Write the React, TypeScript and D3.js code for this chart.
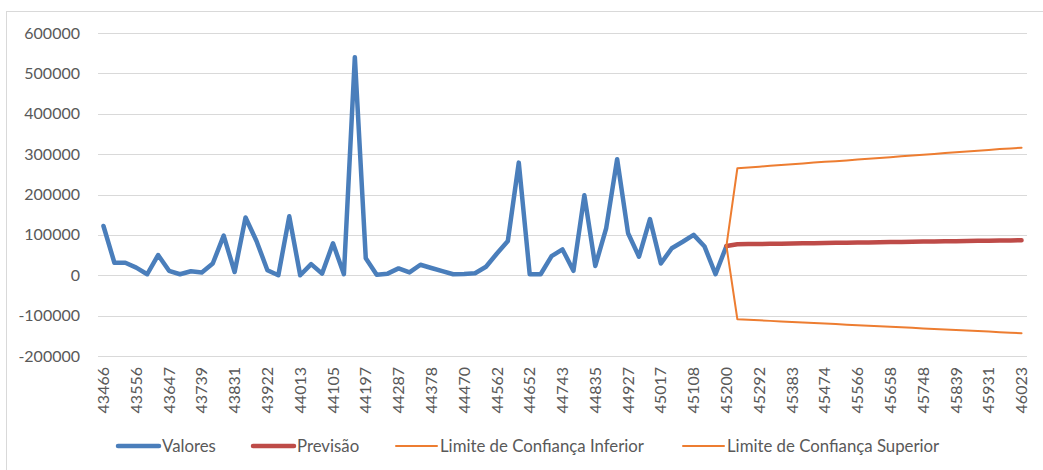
import React from "react";
import * as d3 from "d3";

// Excel serial dates (first day of each month, Jan 2019 – Jan 2026)
const categories: number[] = [
  43466, 43497, 43525, 43556, 43586, 43617, 43647, 43678, 43709, 43739, 43770, 43800,
  43831, 43862, 43891, 43922, 43952, 43983, 44013, 44044, 44075, 44105, 44136, 44166,
  44197, 44228, 44256, 44287, 44317, 44348, 44378, 44409, 44440, 44470, 44501, 44531,
  44562, 44593, 44621, 44652, 44682, 44713, 44743, 44774, 44805, 44835, 44866, 44896,
  44927, 44958, 44986, 45017, 45047, 45078, 45108, 45139, 45170, 45200, 45231, 45261,
  45292, 45323, 45352, 45383, 45413, 45444, 45474, 45505, 45536, 45566, 45597, 45627,
  45658, 45689, 45717, 45748, 45778, 45809, 45839, 45870, 45901, 45931, 45962, 45992,
  46023,
];

// Actual values (Jan 2019 – Oct 2023)
const valores: number[] = [
  122000, 31000, 31000, 19000, 2500, 50000, 11000, 2500, 10000, 7000, 29000, 98000,
  8000, 143000, 85000, 12500, 0, 146000, 0, 27500, 4000, 79000, 2500, 540000,
  42000, 1500, 4000, 17000, 7000, 26000, 18000, 10000, 2500, 3000, 5000, 21000,
  54000, 85000, 279000, 2500, 2500, 47500, 64000, 11000, 198000, 23000, 117000, 287500,
  104000, 46000, 139000, 29000, 67000, 83000, 100000, 71000, 2500, 72500,
];

// Forecast (Oct 2023 – Jan 2026)
const previsao: number[] = [
  72500, 76700, 77100, 77500, 77900, 78300, 78600, 79000, 79400, 79800, 80200, 80600,
  81000, 81400, 81700, 82100, 82500, 82900, 83300, 83700, 84100, 84500, 84800, 85200,
  85600, 86000, 86300, 86600,
];

const limiteInferior: number[] = [
  72500, -109000, -110300, -111700, -113000, -114300, -115700, -117000, -118300, -119600,
  -121000, -122300, -123600, -125000, -126300, -127600, -128900, -130300, -131600,
  -132900, -134300, -135600, -136900, -138300, -139600, -140900, -142300, -143600,
];

const limiteSuperior: number[] = [
  72500, 265000, 267000, 269000, 271000, 273000, 275000, 277000, 279000, 281000,
  282500, 284500, 286500, 288500, 290500, 292500, 294500, 296500, 298500,
  300500, 302500, 304500, 306500, 308500, 310500, 312500, 314200, 316000,
];

const forecastStart = 57;
const yTicks: number[] = [-200000, -100000, 0, 100000, 200000, 300000, 400000, 500000, 600000];
const legendItems = [
  { label: "Valores", color: "#4A7EBB", width: 4.5, x: 118 },
  { label: "Previsão", color: "#BE4B48", width: 4.5, x: 253 },
  { label: "Limite de Confiança Inferior", color: "#ED7D31", width: 2, x: 396 },
  { label: "Limite de Confiança Superior", color: "#ED7D31", width: 2, x: 683 },
];

const W = 1043;
const H = 470;
const FONT = "Lato, 'Open Sans', sans-serif";
const TEXT = "#595959";

export default function App() {
  const x = d3.scaleBand<number>().domain(categories).range([98, 1027]).paddingInner(0).paddingOuter(0);
  const cx = (i: number) => (x(categories[i]) as number) + x.bandwidth() / 2;
  const y = d3.scaleLinear().domain([-200000, 600000]).range([356, 33]);

  const lineFrom = (offset: number) =>
    d3
      .line<number>()
      .x((_, i) => cx(i + offset))
      .y((d) => y(d));

  const series = [
    { data: valores, offset: 0, color: "#4A7EBB", w: 4.5 },
    { data: previsao, offset: forecastStart, color: "#BE4B48", w: 4.5 },
    { data: limiteInferior, offset: forecastStart, color: "#ED7D31", w: 2 },
    { data: limiteSuperior, offset: forecastStart, color: "#ED7D31", w: 2 },
  ];

  return (
    <svg
      width={W}
      height={H}
      style={{ position: "absolute", left: 0, top: 0, background: "#fff" }}
      fontFamily={FONT}
    >
      <rect x={6.5} y={11.5} width={1100} height={500} fill="#fff" stroke="#D9D9D9" strokeWidth={1} />
      {yTicks.map((t) => (
        <g key={t}>
          <line x1={98} x2={1027} y1={Math.round(y(t)) + 0.5} y2={Math.round(y(t)) + 0.5} stroke="#D9D9D9" strokeWidth={1} />
          <text x={80} y={y(t)} dy="0.35em" textAnchor="end" fontSize={16} fill={TEXT}>
            {t}
          </text>
        </g>
      ))}
      {categories.map((c, i) =>
        i % 3 === 0 ? (
          <text
            key={c}
            transform={`translate(${cx(i)},367) rotate(-90)`}
            textAnchor="end"
            dy="0.35em"
            fontSize={16}
            fill={TEXT}
          >
            {c}
          </text>
        ) : null
      )}
      {series.map((s, k) => (
        <path
          key={k}
          d={lineFrom(s.offset)(s.data) || ""}
          fill="none"
          stroke={s.color}
          strokeWidth={s.w}
          strokeLinejoin="round"
          strokeLinecap="round"
        />
      ))}
      {legendItems.map((l) => (
        <g key={l.label}>
          <line x1={l.x} x2={l.x + 41} y1={446} y2={446} stroke={l.color} strokeWidth={l.width} strokeLinecap="round" />
          <text x={l.x + 44} y={446} dy="0.35em" fontSize={16.8} fill={TEXT}>
            {l.label}
          </text>
        </g>
      ))}
    </svg>
  );
}
